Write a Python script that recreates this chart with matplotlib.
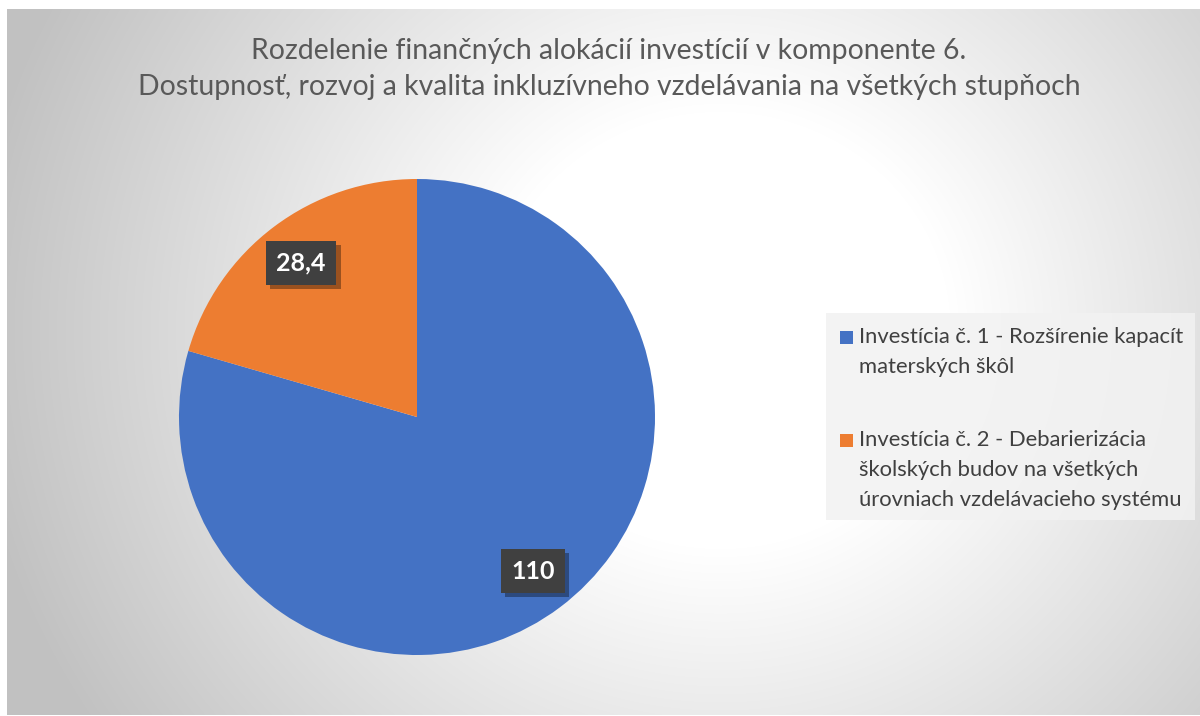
import numpy as np
import matplotlib
matplotlib.use("Agg")
import matplotlib.pyplot as plt
import matplotlib.patheffects as pe
from matplotlib.patches import Rectangle

# ---- data ----
categories = [
    "Investícia č. 1 - Rozšírenie kapacít\nmaterských škôl",
    "Investícia č. 2 - Debarierizácia\nškolských budov na všetkých\núrovniach vzdelávacieho systému",
]
values = [110, 28.4]
colors = ["#4472C4", "#ED7D31"]
title = ("Rozdelenie finančných alokácií investícií v komponente 6.\n"
         "Dostupnosť, rozvoj a kvalita inkluzívneho vzdelávania na všetkých stupňoch")

plt.rcParams['font.family'] = ['Lato', 'DejaVu Sans']

W, H = 1200, 716
fig = plt.figure(figsize=(W / 100, H / 100), dpi=100)
fig.patch.set_facecolor("white")


def fx(px):
    return px / W


def fy(py):
    return 1 - py / H


# ---- background radial gradient (chart area) ----
x0, x1, y0, y1 = 7, 1200, 9, 715
bg = fig.add_axes([x0 / W, 1 - y1 / H, (x1 - x0) / W, (y1 - y0) / H], zorder=0)
yy, xx = np.mgrid[y0:y1, x0:x1]
cx, cy = 720, 330
d = np.sqrt(((xx - cx) / 1.0) ** 2 + ((yy - cy) / 0.95) ** 2)
t = np.clip((d - 230) / 520, 0, 1)
g = 1.0 - t * (1.0 - 0.76)
img = np.dstack([g, g, g])
bg.imshow(img, aspect='auto', interpolation='bilinear')
bg.axis('off')

# ---- pie ----
cxp, cyp, r = 417, 417, 238
ax = fig.add_axes([(cxp - r) / W, (H - cyp - r) / H, 2 * r / W, 2 * r / H], zorder=2)
ax.patch.set_alpha(0)


def fmt(pct):
    v = pct / 100.0 * sum(values)
    return f"{v:.1f}".rstrip('0').rstrip('.').replace('.', ',')


wedges, texts, autotexts = ax.pie(
    values, colors=colors, startangle=90, counterclock=False,
    autopct=fmt, pctdistance=0.81, radius=1.0,
    wedgeprops=dict(linewidth=0),
    textprops=dict(color="white", fontsize=18, fontweight="bold"))
ax.set_xlim(-1, 1)
ax.set_ylim(-1, 1)
ax.set_aspect('equal')
for at in autotexts:
    at.set_bbox(dict(boxstyle="square,pad=0.42", facecolor="#404040", edgecolor="none"))
    at.get_bbox_patch().set_path_effects([
        pe.withSimplePatchShadow(offset=(3, -3), shadow_rgbFace="black", alpha=0.35)])

# ---- title ----
fig.text(609 / W, 1 - 69 / H, title, ha="center", va="center", fontsize=20.4,
         color="#595959", linespacing=1.45, zorder=3)

# ---- legend (manual, so the marker sits at the first line of each entry) ----
lx0, ly0, lx1, ly1 = 826, 313, 1195, 520
fig.patches.append(Rectangle((fx(lx0), fy(ly1)), fx(lx1 - lx0), (ly1 - ly0) / H,
                             transform=fig.transFigure, facecolor="#f2f2f2",
                             edgecolor="none", alpha=0.85, zorder=2))
line_h = 30
entry_tops = [337, 440]
for cat, col, ytop in zip(categories, colors, entry_tops):
    fig.patches.append(Rectangle((fx(840), fy(ytop + 6.5)), fx(13), 13 / H,
                                 transform=fig.transFigure, facecolor=col,
                                 edgecolor="none", zorder=3))
    for i, line in enumerate(cat.split("\n")):
        fig.text(fx(859), fy(ytop + i * line_h), line, ha="left", va="center",
                 fontsize=15.8, color="#404040", zorder=4)

fig.savefig("out.png", dpi=100)
